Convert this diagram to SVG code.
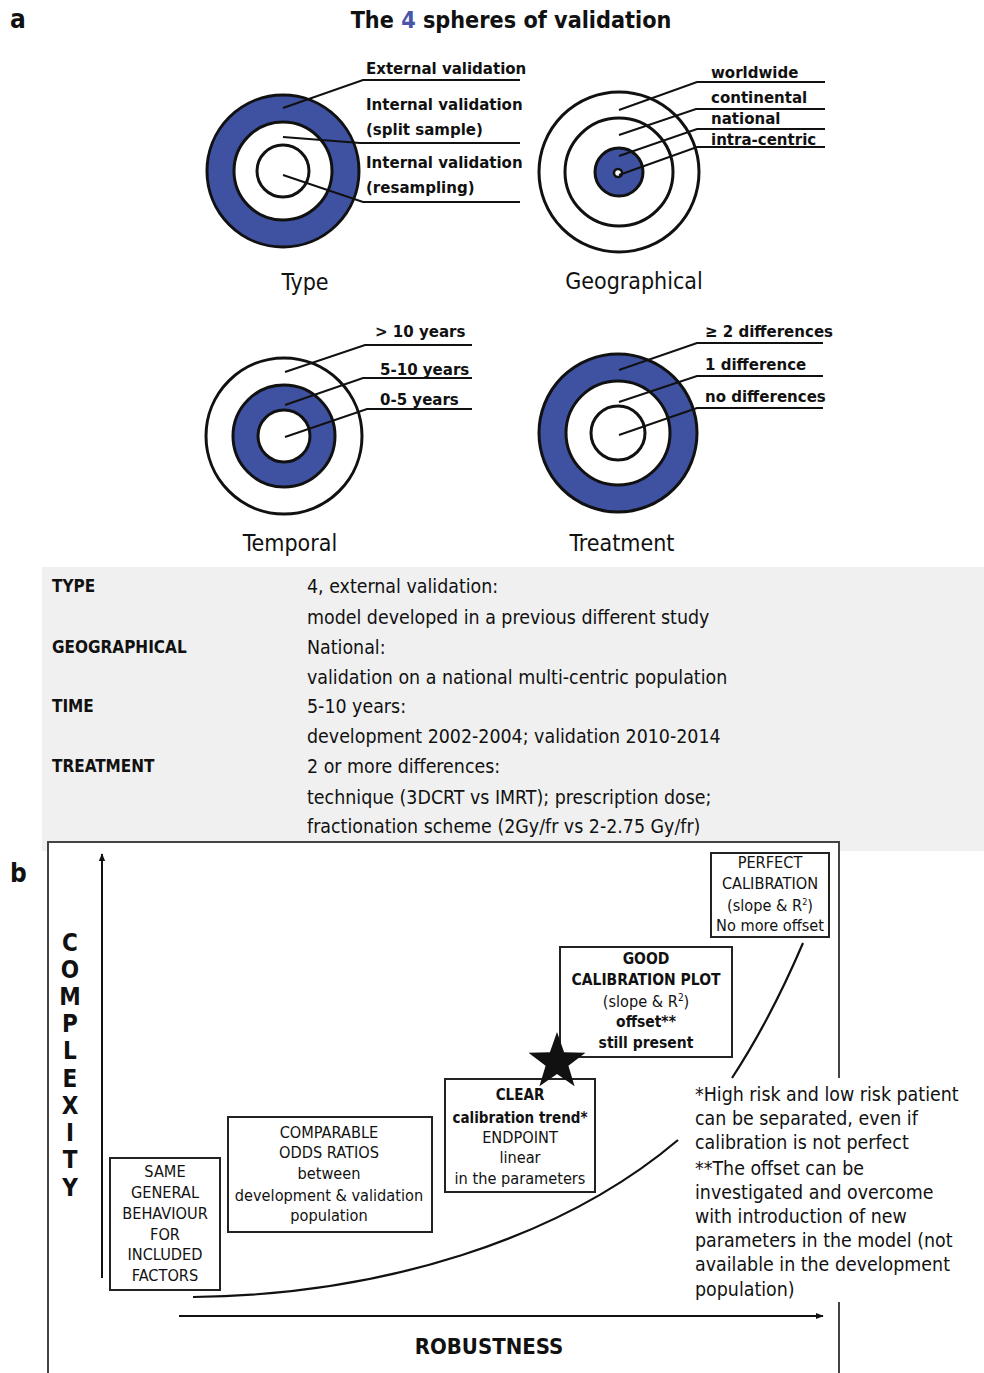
<svg xmlns="http://www.w3.org/2000/svg" width="984" height="1373" viewBox="0 0 984 1373">
<defs>
<marker id="ah" viewBox="0 0 10 10" refX="9" refY="5" markerWidth="8" markerHeight="8" orient="auto" markerUnits="userSpaceOnUse">
<path d="M0,1 L10,5 L0,9 z" fill="#111"/>
</marker>
</defs>
<style>
text{font-family:"DejaVu Sans Condensed","DejaVu Sans",sans-serif;font-stretch:condensed;fill:#111}
.b{font-weight:bold}
.lbl{font-size:16.7px;font-weight:bold}
.cap{font-size:23px}
.tb{font-size:19.4px}
.tl{font-size:17px;font-weight:bold}
.bx{font-size:16.2px;text-anchor:middle}
.note{font-size:19.4px}
.ring{stroke:#111;stroke-width:3}
.blue{fill:#3f51a1}
.wh{fill:#fff}
.ld{fill:none;stroke:#111;stroke-width:2}
.box{fill:#fff;stroke:#222;stroke-width:2}
.frame{stroke:#444;stroke-width:2;fill:none}
</style>
<rect x="0" y="0" width="984" height="1373" fill="#fff"/>
<text x="10" y="28" class="b" font-size="26">a</text>
<text x="511" y="28" class="b" font-size="23.2" text-anchor="middle">The <tspan fill="#4a57a8">4</tspan> spheres of validation</text>

<g id="sphere-type">
<circle cx="283" cy="171" r="76" class="ring blue"/>
<circle cx="283" cy="171" r="49" class="ring wh"/>
<circle cx="283" cy="171" r="26" class="ring wh"/>
<polyline points="283,108 363,80 520,80" class="ld"/>
<polyline points="283,137 360,143 520,143" class="ld"/>
<polyline points="283,175 363,202 520,202" class="ld"/>
<text x="366" y="74" class="lbl">External validation</text>
<text x="366" y="110" class="lbl">Internal validation</text>
<text x="366" y="135" class="lbl">(split sample)</text>
<text x="366" y="168" class="lbl">Internal validation</text>
<text x="366" y="193" class="lbl">(resampling)</text>
<text x="305" y="290" class="cap" text-anchor="middle">Type</text>
</g>

<g id="sphere-geo">
<circle cx="619" cy="172" r="80" class="ring wh"/>
<circle cx="619" cy="172" r="54" class="ring wh"/>
<circle cx="619" cy="172" r="24" class="ring blue"/>
<circle cx="618" cy="173" r="4" fill="#fff" stroke="#111" stroke-width="2.5"/>
<polyline points="619,110 697,82 825,82" class="ld"/>
<polyline points="619,135 696,109 825,109" class="ld"/>
<polyline points="619,156 697,129 825,129" class="ld"/>
<polyline points="619,175 697,147 825,147" class="ld"/>
<text x="711" y="78" class="lbl">worldwide</text>
<text x="711" y="103" class="lbl">continental</text>
<text x="711" y="124" class="lbl">national</text>
<text x="711" y="145" class="lbl">intra-centric</text>
<text x="634" y="289" class="cap" text-anchor="middle">Geographical</text>
</g>

<g id="sphere-temporal">
<circle cx="284" cy="436" r="78" class="ring wh"/>
<circle cx="284" cy="436" r="51" class="ring blue"/>
<circle cx="284" cy="436" r="26" class="ring wh"/>
<polyline points="285,372 365,345 472,345" class="ld"/>
<polyline points="285,405 363,378 472,378" class="ld"/>
<polyline points="285,437 367,409 472,409" class="ld"/>
<text x="375" y="337" class="lbl">&gt; 10 years</text>
<text x="380" y="375" class="lbl">5-10 years</text>
<text x="380" y="405" class="lbl">0-5 years</text>
<text x="290" y="551" class="cap" text-anchor="middle">Temporal</text>
</g>

<g id="sphere-treatment">
<circle cx="618" cy="433" r="79" class="ring blue"/>
<circle cx="618" cy="433" r="52" class="ring wh"/>
<circle cx="618" cy="433" r="27" class="ring wh"/>
<polyline points="619,370 697,343 823,343" class="ld"/>
<polyline points="619,402 697,376 823,376" class="ld"/>
<polyline points="619,435 697,408 823,408" class="ld"/>
<text x="705" y="337" class="lbl">≥ 2 differences</text>
<text x="705" y="370" class="lbl">1 difference</text>
<text x="705" y="402" class="lbl">no differences</text>
<text x="622" y="551" class="cap" text-anchor="middle">Treatment</text>
</g>

<g id="table">
<rect x="42" y="567" width="942" height="284" fill="#f0f0f0"/>
<text x="52" y="592" class="tl">TYPE</text>
<text x="52" y="653" class="tl">GEOGRAPHICAL</text>
<text x="52" y="712" class="tl">TIME</text>
<text x="52" y="772" class="tl">TREATMENT</text>
<text x="307" y="593" class="tb">4, external validation:</text>
<text x="307" y="624" class="tb">model developed in a previous different study</text>
<text x="307" y="654" class="tb">National:</text>
<text x="307" y="684" class="tb">validation on a national multi-centric population</text>
<text x="307" y="713" class="tb">5-10 years:</text>
<text x="307" y="743" class="tb">development 2002-2004; validation 2010-2014</text>
<text x="307" y="773" class="tb">2 or more differences:</text>
<text x="307" y="804" class="tb">technique (3DCRT vs IMRT); prescription dose;</text>
<text x="307" y="833" class="tb">fractionation scheme (2Gy/fr vs 2-2.75 Gy/fr)</text>
</g>

<g id="panel-b">
<rect x="48" y="842" width="791" height="531" fill="#fff"/>
<polyline points="48,1373 48,842 839,842 839,1078" class="frame"/>
<line x1="839" y1="1302" x2="839" y2="1373" class="frame"/>
<text x="10" y="882" class="b" font-size="26">b</text>
<g id="axis-labels">
<text class="b" font-size="24" text-anchor="middle">
<tspan x="70" y="951">C</tspan><tspan x="70" y="978">O</tspan><tspan x="70" y="1005">M</tspan><tspan x="70" y="1032">P</tspan><tspan x="70" y="1059">L</tspan><tspan x="70" y="1087">E</tspan><tspan x="70" y="1114">X</tspan><tspan x="70" y="1141">I</tspan><tspan x="70" y="1168">T</tspan><tspan x="70" y="1196">Y</tspan>
</text>
<text x="489" y="1354" class="b" font-size="22" text-anchor="middle">ROBUSTNESS</text>
</g>
</g>

<g id="connectors">
<line x1="102" y1="1278" x2="102" y2="854" stroke="#111" stroke-width="2" marker-end="url(#ah)"/>
<line x1="179" y1="1316" x2="823" y2="1316" stroke="#111" stroke-width="2" marker-end="url(#ah)"/>
<path d="M193,1297 C380,1295 560,1240 678,1140" fill="none" stroke="#111" stroke-width="2.2"/>
<path d="M732,1078 Q770,1020 803,943" fill="none" stroke="#111" stroke-width="2.2"/>
</g>

<g id="box-same">
<rect x="110" y="1158" width="110" height="132" class="box"/>
<text class="bx"><tspan x="165" y="1177">SAME</tspan><tspan x="165" y="1198">GENERAL</tspan><tspan x="165" y="1219">BEHAVIOUR</tspan><tspan x="165" y="1240">FOR</tspan><tspan x="165" y="1260">INCLUDED</tspan><tspan x="165" y="1281">FACTORS</tspan></text>
</g>

<g id="box-comparable">
<rect x="228" y="1117" width="204" height="115" class="box"/>
<text class="bx"><tspan x="329" y="1138">COMPARABLE</tspan><tspan x="329" y="1158">ODDS RATIOS</tspan><tspan x="329" y="1179">between</tspan><tspan x="329" y="1201">development &amp; validation</tspan><tspan x="329" y="1221">population</tspan></text>
</g>

<g id="box-clear">
<rect x="445" y="1079" width="150" height="113" class="box"/>
<text class="bx"><tspan x="520" y="1100" class="b" font-size="15">CLEAR</tspan><tspan x="520" y="1123" class="b" font-size="15">calibration trend*</tspan><tspan x="520" y="1143">ENDPOINT</tspan><tspan x="520" y="1163">linear</tspan><tspan x="520" y="1184">in the parameters</tspan></text>
</g>

<g id="box-good">
<rect x="560" y="947" width="172" height="110" class="box"/>
<text class="bx"><tspan x="646" y="964" class="b" font-size="15.5">GOOD</tspan><tspan x="646" y="985" class="b" font-size="15.5">CALIBRATION PLOT</tspan><tspan x="646" y="1007">(slope &amp; R<tspan font-size="10" dy="-6">2</tspan><tspan dy="6">)</tspan></tspan><tspan x="646" y="1027" class="b" font-size="15.5">offset**</tspan><tspan x="646" y="1048" class="b" font-size="15.5">still present</tspan></text>
</g>

<g id="box-perfect">
<rect x="711" y="853" width="118" height="84" class="box"/>
<text class="bx" font-size="15.5"><tspan x="770" y="868">PERFECT</tspan><tspan x="770" y="889">CALIBRATION</tspan><tspan x="770" y="911">(slope &amp; R<tspan font-size="9" dy="-6">2</tspan><tspan dy="6">)</tspan></tspan><tspan x="770" y="931">No more offset</tspan></text>
</g>

<g id="star">
<polygon points="557,1032 564.1,1052.3 585.5,1052.7 568.4,1065.7 574.6,1086.3 557,1074 539.4,1086.3 545.6,1065.7 528.5,1052.7 549.9,1052.3" fill="#111"/>
</g>

<g id="notes">
<text class="note"><tspan x="695" y="1101">*High risk and low risk patient</tspan><tspan x="695" y="1125">can be separated, even if</tspan><tspan x="695" y="1149">calibration is not perfect</tspan><tspan x="695" y="1175">**The offset can be</tspan><tspan x="695" y="1199">investigated and overcome</tspan><tspan x="695" y="1223">with introduction of new</tspan><tspan x="695" y="1247">parameters in the model (not</tspan><tspan x="695" y="1271">available in the development</tspan><tspan x="695" y="1296">population)</tspan></text>
</g>
</svg>
